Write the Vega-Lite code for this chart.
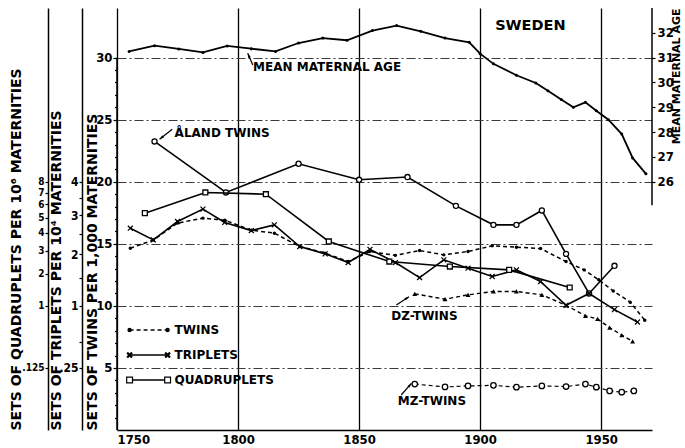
{
"$schema": "https://vega.github.io/schema/vega-lite/v6.json",
"width": 535, "height": 422,
"autosize": {"type": "none"},
"padding": {"left": 117, "top": 8, "right": 33, "bottom": 18},
"background": "white",
"config": {
  "view": {"stroke": null},
  "font": "DejaVu Sans",
  "axis": {"labelFont": "Liberation Sans Narrow, DejaVu Sans Condensed, DejaVu Sans", "titleFont": "DejaVu Sans", "labelFontWeight": "bold", "titleFontWeight": "bold", "labelColor": "black", "titleColor": "black", "domainColor": "black", "tickColor": "black", "domainWidth": 1.5, "tickWidth": 1.2},
  "text": {"font": "DejaVu Sans", "fontWeight": "bold", "color": "black"},
  "line": {"color": "black"},
  "point": {"color": "black", "opacity": 1}
},
"datasets": {
  "twins": [
    {"year":1755.5,"rate":14.65},{"year":1765,"rate":15.3},{"year":1775,"rate":16.67},{"year":1785.5,"rate":17.07},{"year":1794.5,"rate":16.9},{"year":1805.5,"rate":16.1},{"year":1815,"rate":15.86},{"year":1825.5,"rate":14.78},{"year":1836,"rate":14.25},{"year":1845.5,"rate":13.57},{"year":1854.5,"rate":14.38},{"year":1865,"rate":14.07},{"year":1875,"rate":14.46},{"year":1885,"rate":14.11},{"year":1895,"rate":14.38},{"year":1905,"rate":14.84},{"year":1915,"rate":14.73},{"year":1925,"rate":14.62},{"year":1935.5,"rate":13.57},{"year":1943,"rate":12.9},{"year":1949,"rate":12.1},{"year":1955,"rate":11.2},{"year":1962,"rate":10.3},{"year":1968,"rate":8.85}
  ],
  "aland": [
    {"year":1765.5,"rate":23.25},{"year":1795,"rate":19.14},{"year":1825,"rate":21.45},{"year":1850,"rate":20.16},{"year":1870,"rate":20.38},{"year":1890,"rate":18.06},{"year":1905.5,"rate":16.53},{"year":1915,"rate":16.53},{"year":1925.5,"rate":17.69},{"year":1935.5,"rate":14.19},{"year":1945,"rate":11.0},{"year":1955.5,"rate":13.23}
  ],
  "dz": [
    {"year":1873,"rate":10.97},{"year":1885.5,"rate":10.54},{"year":1895,"rate":10.89},{"year":1905.5,"rate":11.16},{"year":1915,"rate":11.16},{"year":1925.5,"rate":10.89},{"year":1935.5,"rate":10.05},{"year":1943.5,"rate":9.2},{"year":1948.5,"rate":8.95},{"year":1953.5,"rate":8.25},{"year":1958.5,"rate":7.65},{"year":1963,"rate":7.15}
  ],
  "mz": [
    {"year":1873,"rate":3.7},{"year":1885.5,"rate":3.47},{"year":1895,"rate":3.55},{"year":1905.5,"rate":3.6},{"year":1915,"rate":3.45},{"year":1925.5,"rate":3.55},{"year":1935.5,"rate":3.5},{"year":1943.5,"rate":3.7},{"year":1948,"rate":3.45},{"year":1953.5,"rate":3.15},{"year":1958.5,"rate":3.05},{"year":1963.5,"rate":3.15}
  ],
  "triplets": [
    {"year":1755.5,"rate":2.644},{"year":1765,"rate":2.347},{"year":1775,"rate":2.822},{"year":1785.5,"rate":3.168},{"year":1794.5,"rate":2.796},{"year":1805.5,"rate":2.582},{"year":1815,"rate":2.732},{"year":1825.5,"rate":2.184},{"year":1836,"rate":2.014},{"year":1845.5,"rate":1.82},{"year":1854.5,"rate":2.117},{"year":1865,"rate":1.82},{"year":1875,"rate":1.508},{"year":1885,"rate":1.88},{"year":1895,"rate":1.7},{"year":1905,"rate":1.53},{"year":1915,"rate":1.664},{"year":1925,"rate":1.43},{"year":1935.5,"rate":1.01},{"year":1945,"rate":1.21},{"year":1955.5,"rate":0.941},{"year":1965,"rate":0.757}
  ],
  "quads": [
    {"year":1761.5,"rate":5.332},{"year":1786.5,"rate":7.012},{"year":1811.5,"rate":6.859},{"year":1837.5,"rate":3.505},{"year":1862.5,"rate":2.499},{"year":1887.5,"rate":2.284},{"year":1912,"rate":2.147},{"year":1937,"rate":1.513}
  ],
  "age": [
    {"year":1755,"age":31.25},{"year":1765.5,"age":31.48},{"year":1775.5,"age":31.35},{"year":1785.5,"age":31.21},{"year":1795.5,"age":31.47},{"year":1805.5,"age":31.36},{"year":1815.5,"age":31.25},{"year":1825,"age":31.59},{"year":1835,"age":31.79},{"year":1845,"age":31.7},{"year":1855.5,"age":32.09},{"year":1865.5,"age":32.29},{"year":1875.5,"age":32.06},{"year":1885.5,"age":31.79},{"year":1895.5,"age":31.62},{"year":1900,"age":31.16},{"year":1905.5,"age":30.75},{"year":1915,"age":30.29},{"year":1923,"age":29.98},{"year":1928,"age":29.67},{"year":1933.5,"age":29.31},{"year":1938.5,"age":29.0},{"year":1943.5,"age":29.2},{"year":1948,"age":28.86},{"year":1953,"age":28.5},{"year":1958.5,"age":27.92},{"year":1963,"age":26.96},{"year":1968.5,"age":26.32}
  ],
  "legend": [
    {"label":"TWINS","year":1755.2,"rate":8.06},{"label":"TWINS","year":1770.9,"rate":8.06},
    {"label":"TRIPLETS","year":1755.2,"rate":6.04},{"label":"TRIPLETS","year":1770.9,"rate":6.04},
    {"label":"QUADRUPLETS","year":1755.2,"rate":4.03},{"label":"QUADRUPLETS","year":1770.9,"rate":4.03}
  ],
  "notes": [
    {"note":"ÅLAND TWINS","year":1773.8,"rate":23.9},
    {"note":"MEAN MATERNAL AGE","year":1806.2,"rate":29.27},
    {"note":"DZ-TWINS","year":1863.3,"rate":9.21},
    {"note":"MZ-TWINS","year":1866,"rate":2.36}
  ],
  "arrows": [
    {"id":"a","part":"tail","year":1772.8,"rate":24.23},{"id":"a","part":"head","year":1767.6,"rate":23.43},
    {"id":"m","part":"tail","year":1806.1,"rate":29.41},{"id":"m","part":"head","year":1804.0,"rate":30.35},
    {"id":"d","part":"tail","year":1865.4,"rate":10.07},{"id":"d","part":"head","year":1870.6,"rate":10.74},
    {"id":"z","part":"tail","year":1867.4,"rate":2.82},{"id":"z","part":"head","year":1871.6,"rate":3.76}
  ]
},
"encoding": {
  "x": {"field": "year", "type": "quantitative", "scale": {"domain": [1750, 1971], "nice": false, "zero": false},
        "axis": {"orient": "bottom", "values": [1750, 1800, 1850, 1900, 1950], "format": "d", "grid": true, "gridColor": "black", "gridWidth": 1.3,
                 "ticks": false, "labelFontSize": 13, "labelPadding": 3, "title": null}}
},
"layer": [
  {
    "data": {"name": "twins"},
    "mark": {"type": "line", "strokeDash": [4, 3], "strokeWidth": 1.5},
    "encoding": {
      "y": {"field": "rate", "type": "quantitative", "scale": {"domain": [0, 34], "nice": false, "zero": false},
            "axis": {"orient": "left", "values": [5, 10, 15, 20, 25, 30], "domain": false,
                     "grid": true, "gridDash": [9, 3, 2, 3], "gridColor": "#3a3a3a", "gridWidth": 1,
                     "tickSize": 4, "labelFontSize": 13, "labelPadding": 1,
                     "title": "SETS OF TWINS PER 1,000 MATERNITIES", "titleFontSize": 14, "titleAnchor": "start", "titleAlign": "left", "titlePadding": -4}}
    }
  },
  {
    "data": {"name": "twins"},
    "mark": {"type": "point", "shape": "circle", "size": 12, "filled": true},
    "encoding": {
      "y": {"field": "rate", "type": "quantitative", "scale": {"domain": [0, 34], "nice": false, "zero": false},
            "axis": {"orient": "left", "values": [1,2,3,4,6,7,8,9,11,12,13,14,16,17,18,19,21,22,23,24,26,27,28,29], "domain": false, "grid": false, "labels": false, "tickSize": 2.5, "title": null}}
    }
  },
  {
    "data": {"values": [{"year": 1750, "low": 0, "high": 30}]},
    "mark": {"type": "rule", "strokeWidth": 1.5, "color": "black"},
    "encoding": {
      "y": {"field": "low", "type": "quantitative", "scale": {"domain": [0, 34], "nice": false, "zero": false}, "axis": null},
      "y2": {"field": "high"}
    }
  },
  {
    "data": {"name": "aland"},
    "mark": {"type": "line", "strokeWidth": 1.6},
    "encoding": {
      "y": {"field": "rate", "type": "quantitative", "scale": {"domain": [0, 34], "nice": false, "zero": false}, "axis": null}
    }
  },
  {
    "data": {"name": "aland"},
    "mark": {"type": "point", "shape": "circle", "size": 26, "fill": "white", "stroke": "black", "strokeWidth": 1.3},
    "encoding": {
      "y": {"field": "rate", "type": "quantitative", "scale": {"domain": [0, 34], "nice": false, "zero": false}, "axis": null}
    }
  },
  {
    "data": {"name": "dz"},
    "mark": {"type": "line", "strokeDash": [4, 3], "strokeWidth": 1.4},
    "encoding": {
      "y": {"field": "rate", "type": "quantitative", "scale": {"domain": [0, 34], "nice": false, "zero": false}, "axis": null}
    }
  },
  {
    "data": {"name": "dz"},
    "mark": {"type": "point", "shape": "triangle-up", "size": 24, "filled": true},
    "encoding": {
      "y": {"field": "rate", "type": "quantitative", "scale": {"domain": [0, 34], "nice": false, "zero": false}, "axis": null}
    }
  },
  {
    "data": {"name": "mz"},
    "mark": {"type": "line", "strokeDash": [4, 3], "strokeWidth": 1.2},
    "encoding": {
      "y": {"field": "rate", "type": "quantitative", "scale": {"domain": [0, 34], "nice": false, "zero": false}, "axis": null}
    }
  },
  {
    "data": {"name": "mz"},
    "mark": {"type": "point", "shape": "circle", "size": 30, "fill": "white", "stroke": "black", "strokeWidth": 1.3},
    "encoding": {
      "y": {"field": "rate", "type": "quantitative", "scale": {"domain": [0, 34], "nice": false, "zero": false}, "axis": null}
    }
  },
  {
    "data": {"name": "legend"},
    "mark": {"type": "line", "strokeWidth": 1.5},
    "encoding": {
      "y": {"field": "rate", "type": "quantitative", "scale": {"domain": [0, 34], "nice": false, "zero": false}, "axis": null},
      "detail": {"field": "label", "type": "nominal"},
      "strokeDash": {"field": "label", "type": "nominal", "scale": {"domain": ["TWINS", "TRIPLETS", "QUADRUPLETS"], "range": [[4, 3], [1, 0], [1, 0]]}, "legend": null}
    }
  },
  {
    "data": {"name": "legend"},
    "mark": {"type": "point", "stroke": "black", "strokeWidth": 1.2, "filled": true},
    "encoding": {
      "y": {"field": "rate", "type": "quantitative", "scale": {"domain": [0, 34], "nice": false, "zero": false}, "axis": null},
      "shape": {"field": "label", "type": "nominal", "scale": {"domain": ["TWINS", "TRIPLETS", "QUADRUPLETS"], "range": ["circle", "M-1,-0.7L-0.7,-1L0,-0.3L0.7,-1L1,-0.7L0.3,0L1,0.7L0.7,1L0,0.3L-0.7,1L-1,0.7L-0.3,0Z", "square"]}, "legend": null},
      "fill": {"field": "label", "type": "nominal", "scale": {"domain": ["TWINS", "TRIPLETS", "QUADRUPLETS"], "range": ["black", "black", "white"]}, "legend": null},
      "size": {"field": "label", "type": "nominal", "scale": {"domain": ["TWINS", "TRIPLETS", "QUADRUPLETS"], "range": [10, 34, 22]}, "legend": null}
    }
  },
  {
    "data": {"name": "legend"},
    "mark": {"type": "text", "align": "left", "baseline": "middle", "dx": 7, "fontSize": 12},
    "encoding": {
      "x": {"aggregate": "max", "field": "year", "type": "quantitative"},
      "y": {"field": "rate", "type": "quantitative", "scale": {"domain": [0, 34], "nice": false, "zero": false}, "axis": null},
      "text": {"field": "label", "type": "nominal"}
    }
  },
  {
    "data": {"name": "notes"},
    "mark": {"type": "text", "align": "left", "baseline": "middle", "fontSize": 12},
    "encoding": {
      "y": {"field": "rate", "type": "quantitative", "scale": {"domain": [0, 34], "nice": false, "zero": false}, "axis": null},
      "text": {"field": "note", "type": "nominal"}
    }
  },
  {
    "data": {"values": [{"note": "SWEDEN", "year": 1906.2, "rate": 32.55}]},
    "mark": {"type": "text", "align": "left", "baseline": "middle", "fontSize": 14.5},
    "encoding": {
      "y": {"field": "rate", "type": "quantitative", "scale": {"domain": [0, 34], "nice": false, "zero": false}, "axis": null},
      "text": {"field": "note", "type": "nominal"}
    }
  },
  {
    "data": {"name": "arrows"},
    "mark": {"type": "line", "strokeWidth": 1.2},
    "encoding": {
      "y": {"field": "rate", "type": "quantitative", "scale": {"domain": [0, 34], "nice": false, "zero": false}, "axis": null},
      "detail": {"field": "id", "type": "nominal"}
    }
  },
  {
    "data": {"name": "arrows"},
    "transform": [{"filter": "datum.id == 'a' && datum.part == 'head'"}],
    "mark": {"type": "point", "shape": "M0,0L0.55,1.8L-0.55,1.8Z", "size": 25, "filled": true, "angle": 232},
    "encoding": {
      "y": {"field": "rate", "type": "quantitative", "scale": {"domain": [0, 34], "nice": false, "zero": false}, "axis": null}
    }
  },
  {
    "data": {"name": "arrows"},
    "transform": [{"filter": "datum.id == 'm' && datum.part == 'head'"}],
    "mark": {"type": "point", "shape": "M0,0L0.55,1.8L-0.55,1.8Z", "size": 25, "filled": true, "angle": 337},
    "encoding": {
      "y": {"field": "rate", "type": "quantitative", "scale": {"domain": [0, 34], "nice": false, "zero": false}, "axis": null}
    }
  },
  {
    "data": {"name": "arrows"},
    "transform": [{"filter": "datum.id == 'd' && datum.part == 'head'"}],
    "mark": {"type": "point", "shape": "M0,0L0.55,1.8L-0.55,1.8Z", "size": 25, "filled": true, "angle": 57},
    "encoding": {
      "y": {"field": "rate", "type": "quantitative", "scale": {"domain": [0, 34], "nice": false, "zero": false}, "axis": null}
    }
  },
  {
    "data": {"name": "arrows"},
    "transform": [{"filter": "datum.id == 'z' && datum.part == 'head'"}],
    "mark": {"type": "point", "shape": "M0,0L0.55,1.8L-0.55,1.8Z", "size": 25, "filled": true, "angle": 40},
    "encoding": {
      "y": {"field": "rate", "type": "quantitative", "scale": {"domain": [0, 34], "nice": false, "zero": false}, "axis": null}
    }
  },
  {
    "data": {"name": "triplets"},
    "mark": {"type": "line", "strokeWidth": 1.6},
    "encoding": {
      "y": {"field": "rate", "type": "quantitative", "scale": {"type": "pow", "exponent": 0.5, "domain": [0, 11.56], "nice": false, "zero": false},
            "axis": {"orient": "left", "offset": 35, "values": [0.25, 0.5, 1, 1.5, 2, 2.5, 3, 3.5, 4],
                     "labelExpr": "datum.value == 0.25 ? '.25' : (datum.value % 1 === 0 ? datum.label : '')",
                     "tickSize": 3, "labelFontSize": 12, "labelPadding": 1, "labelOverlap": false, "grid": false,
                     "title": "SETS OF TRIPLETS PER 10⁴ MATERNITIES", "titleFontSize": 14, "titleAnchor": "start", "titleAlign": "left", "titlePadding": -5}}
    }
  },
  {
    "data": {"name": "triplets"},
    "mark": {"type": "point", "shape": "M-1,-0.7L-0.7,-1L0,-0.3L0.7,-1L1,-0.7L0.3,0L1,0.7L0.7,1L0,0.3L-0.7,1L-1,0.7L-0.3,0Z", "size": 34, "filled": true},
    "encoding": {
      "y": {"field": "rate", "type": "quantitative", "scale": {"type": "pow", "exponent": 0.5, "domain": [0, 11.56], "nice": false, "zero": false}, "axis": null}
    }
  },
  {
    "data": {"name": "quads"},
    "mark": {"type": "line", "strokeWidth": 1.6},
    "encoding": {
      "y": {"field": "rate", "type": "quantitative", "scale": {"type": "pow", "exponent": 0.3333333333, "domain": [0, 39.304], "nice": false, "zero": false},
            "axis": {"orient": "left", "offset": 69, "values": [0.125, 1, 2, 3, 4, 5, 6, 7, 8],
                     "labelExpr": "datum.value == 0.125 ? '.125' : datum.label",
                     "tickSize": 3, "labelFontSize": 10, "labelPadding": 1, "labelOverlap": false, "grid": false,
                     "title": "SETS OF QUADRUPLETS PER 10⁶ MATERNITIES", "titleFontSize": 14, "titleAnchor": "start", "titleAlign": "left", "titlePadding": -2}}
    }
  },
  {
    "data": {"name": "quads"},
    "mark": {"type": "point", "shape": "square", "size": 24, "fill": "white", "stroke": "black", "strokeWidth": 1.3},
    "encoding": {
      "y": {"field": "rate", "type": "quantitative", "scale": {"type": "pow", "exponent": 0.3333333333, "domain": [0, 39.304], "nice": false, "zero": false}, "axis": null}
    }
  },
  {
    "data": {"name": "age"},
    "mark": {"type": "line", "strokeWidth": 1.8},
    "encoding": {
      "y": {"field": "age", "type": "quantitative", "scale": {"domain": [16, 33], "nice": false, "zero": false},
            "axis": {"orient": "right", "values": [26, 27, 28, 29, 30, 31, 32], "domain": false, "grid": false, "tickSize": 3,
                     "labelFontSize": 13, "labelPadding": 2,
                     "title": "MEAN MATERNAL AGE", "titleFontSize": 11, "titleAngle": 270, "titleAnchor": "end", "titleAlign": "right", "titleBaseline": "top", "titlePadding": -3}}
    }
  },
  {
    "data": {"name": "age"},
    "mark": {"type": "point", "shape": "circle", "size": 9, "filled": true},
    "encoding": {
      "y": {"field": "age", "type": "quantitative", "scale": {"domain": [16, 33], "nice": false, "zero": false}, "axis": null}
    }
  },
  {
    "data": {"values": [{"year": 1971, "low": 25.05, "high": 33}]},
    "mark": {"type": "rule", "strokeWidth": 1.5, "color": "black"},
    "encoding": {
      "y": {"field": "low", "type": "quantitative", "scale": {"domain": [16, 33], "nice": false, "zero": false}, "axis": null},
      "y2": {"field": "high"}
    }
  }
],
"resolve": {"scale": {"y": "independent"}}
}
